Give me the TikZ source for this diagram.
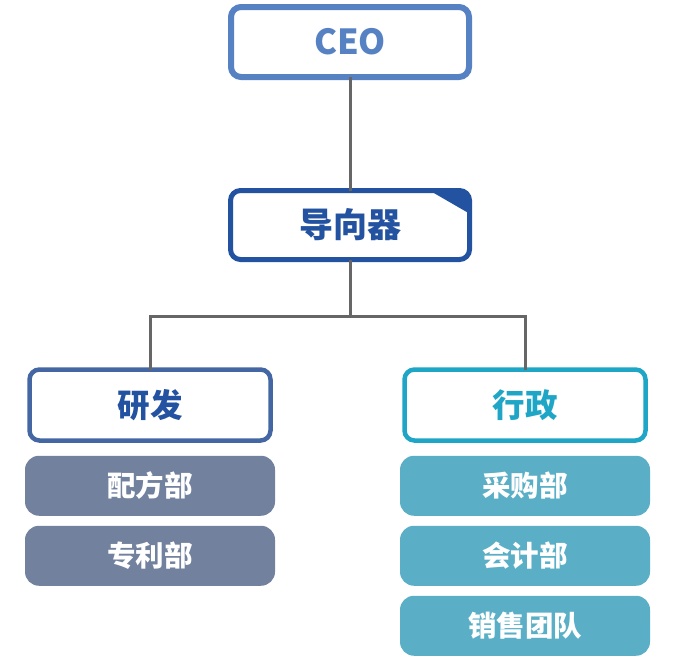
\documentclass[tikz,border=0pt]{standalone}
\usepackage{fontspec}
\newfontfamily\cjk{Noto Sans CJK SC}
\usepackage{tikz}
\usetikzlibrary{positioning}

\definecolor{ceoblue}{HTML}{5682C3}
\definecolor{guideblue}{HTML}{2352A0}
\definecolor{rdblue}{HTML}{4467A3}
\definecolor{admincyan}{HTML}{1FA6C6}
\definecolor{rdgray}{HTML}{72819E}
\definecolor{adminteal}{HTML}{5AAFC6}
\definecolor{linkgray}{HTML}{666666}

\begin{document}
\begin{tikzpicture}[
    x=1pt, y=1pt,
    font=\cjk\bfseries,
    head/.style={
		rectangle,
		rounded corners=10pt,
		draw,
		fill=white,
		inner sep=0pt,
		outer sep=0pt,
		text centered
	},
    dept/.style={
		rectangle,
		rounded corners=14pt,
		inner sep=0pt,
		outer sep=0pt,
		minimum width=250pt,
		minimum height=60pt,
		text=white,
		font=\cjk\bfseries\fontsize{28.5}{32}\selectfont
	},
	link/.style={
		draw=linkgray,
		line width=3pt
	}
  ]
    \useasboundingbox (0,0) rectangle (700,-656);
    % We start by placing the blocks

  \node [head, draw=ceoblue, text=ceoblue, line width=6pt,
         minimum width=238pt, minimum height=70pt,
         font=\cjk\bfseries\fontsize{34.5}{38}\selectfont] (ceo) at (350,-42) {CEO};

  \node [head, draw=guideblue, text=guideblue, line width=5pt,
         minimum width=239pt, minimum height=69pt,
         font=\cjk\bfseries\fontsize{34}{38}\selectfont,
         below=113.5pt of ceo] (guide) {导向器};

  \node [head, draw=rdblue, text=guideblue, line width=4.5pt,
         minimum width=241pt, minimum height=71pt,
         font=\cjk\bfseries\fontsize{32.5}{36}\selectfont,
         below=110pt of guide, xshift=-200pt] (rd) {研发};

  \node [head, draw=admincyan, text=admincyan, line width=4.5pt,
         minimum width=241pt, minimum height=71pt,
         font=\cjk\bfseries\fontsize{32.5}{36}\selectfont,
         below=110pt of guide, xshift=175pt] (admin) {行政};

  % folded corner of the guide box
  \begin{scope}
    \clip [rounded corners=10pt] (guide.south west) rectangle (guide.north east);
    \fill [guideblue] ([xshift=-40pt]guide.north east) -- ++(45pt,0) -- ++(0,-26pt) -- cycle;
  \end{scope}

  % departments
  \node [dept, fill=rdgray, below=15.25pt of rd] (recipe) {配方部};
  \node [dept, fill=rdgray, below=10pt of recipe] (patent) {专利部};

  \node [dept, fill=adminteal, below=15.25pt of admin] (purchase) {采购部};
  \node [dept, fill=adminteal, below=10pt of purchase] (account) {会计部};
  \node [dept, fill=adminteal, below=10pt of account] (sales) {销售团队};

  % connectors
  \coordinate [below=57pt of guide.south] (split);
  \draw [link] (ceo) -- (guide);
  \draw [link] (guide) -- (split);
  \draw [link] (split) -| (rd);
  \draw [link] (split) -| (admin);

\end{tikzpicture}
\end{document}
